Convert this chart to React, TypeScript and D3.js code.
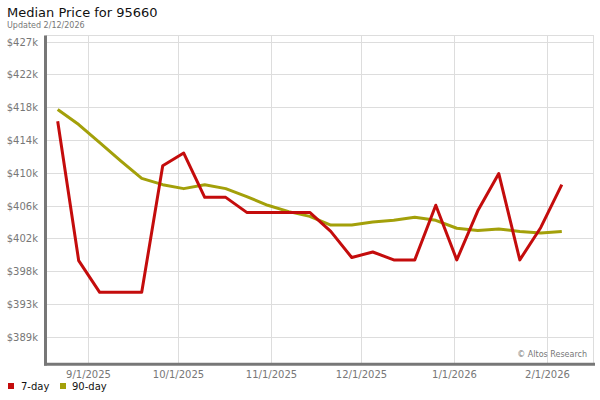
import React from "react";
import * as d3 from "d3";

const dates = [
  "2025-08-22","2025-08-29","2025-09-05","2025-09-12","2025-09-19","2025-09-26",
  "2025-10-03","2025-10-10","2025-10-17","2025-10-24","2025-10-31","2025-11-07",
  "2025-11-14","2025-11-21","2025-11-28","2025-12-05","2025-12-12","2025-12-19",
  "2025-12-26","2026-01-02","2026-01-09","2026-01-16","2026-01-23","2026-01-30","2026-02-06",
];
const sevenDay = [
  416.5, 398.9, 394.9, 394.9, 394.9, 410.9, 412.5, 406.9, 406.9, 405.0, 405.0, 405.0,
  405.0, 402.6, 399.3, 400.0, 399.0, 399.0, 405.9, 399.0, 405.2, 409.9, 399.0, 403.1, 408.5,
];
const ninetyDay = [
  418.0, 416.1, 413.8, 411.5, 409.3, 408.5, 408.0, 408.5, 408.0, 407.0, 405.9, 405.1,
  404.5, 403.4, 403.4, 403.8, 404.0, 404.4, 404.0, 403.0, 402.7, 402.9, 402.6, 402.4, 402.6,
];
const yTickValues = [389.3, 393.44, 397.58, 401.72, 405.86, 410.0, 414.14, 418.28, 422.42, 426.56];
const yTickLabels = ["$389k","$393k","$398k","$402k","$406k","$410k","$414k","$418k","$422k","$427k"];
const xTickDates = ["2025-09-01","2025-10-01","2025-11-01","2025-12-01","2026-01-01","2026-02-01"];
const xTickLabels = ["9/1/2025","10/1/2025","11/1/2025","12/1/2025","1/1/2026","2/1/2026"];

const FONT = "DejaVu Sans, sans-serif";

export default function App() {
  const W = 600, H = 400;
  const left = 46, right = 593.5, top = 35.5, bottom = 364;
  const parse = d3.utcParse("%Y-%m-%d");
  const x = d3.scaleUtc()
    .domain([parse("2025-09-01")!, parse("2026-02-01")!])
    .range([87.7, 546.8]);
  const y = d3.scaleLinear().domain([389.3, 426.56]).range([336.7, 41.7]);
  const line = d3.line<[Date, number]>().x(d => x(d[0])).y(d => y(d[1]));
  const ds = dates.map(d => parse(d)!);
  const red = line(ds.map((d, i) => [d, sevenDay[i]] as [Date, number]))!;
  const green = line(ds.map((d, i) => [d, ninetyDay[i]] as [Date, number]))!;

  return (
    <svg width={W} height={H} style={{ position: "absolute", left: 0, top: 0 }} fontFamily={FONT}>
      <rect width={W} height={H} fill="#fff" />
      <text x={7} y={17} fontSize={13} fill="#111">Median Price for 95660</text>
      <text x={7} y={28} fontSize={8} fill="#777">Updated 2/12/2026</text>
      {/* plot frame */}
      <rect x={left} y={top} width={right - left} height={bottom - top} fill="none" stroke="#ddd" strokeWidth={1} />
      {yTickValues.map((v, i) => (
        <g key={"y" + i}>
          <line x1={left} x2={right} y1={Math.round(y(v)) + 0.5} y2={Math.round(y(v)) + 0.5} stroke="#ddd" />
          <text x={38} y={y(v) + 4} fontSize={10} fill="#777" textAnchor="end">{yTickLabels[i]}</text>
        </g>
      ))}
      {xTickDates.map((d, i) => {
        const xx = Math.round(x(parse(d)!)) + 0.5;
        return (
          <g key={"x" + i}>
            <line x1={xx} x2={xx} y1={top} y2={bottom} stroke="#ddd" />
            <text x={xx} y={378} fontSize={10} fill="#777" textAnchor="middle">{xTickLabels[i]}</text>
          </g>
        );
      })}
      <text x={587} y={357} fontSize={8} fill="#777" textAnchor="end">© Altos Research</text>
      {/* axes */}
      <line x1={45.5} x2={45.5} y1={top} y2={365.5} stroke="#777" strokeWidth={3} />
      <line x1={44} x2={595} y1={364.2} y2={364.2} stroke="#777" strokeWidth={3} />
      <path d={green} fill="none" stroke="#a3a00a" strokeWidth={3} strokeLinejoin="round" />
      <path d={red} fill="none" stroke="#c40c0c" strokeWidth={3} strokeLinejoin="round" />
      {/* legend */}
      <rect x={8} y={383} width={6} height={6} fill="#c40c0c" />
      <text x={21} y={390} fontSize={10} fill="#111">7-day</text>
      <rect x={60} y={383} width={6} height={6} fill="#a3a00a" />
      <text x={72} y={390} fontSize={10} fill="#111">90-day</text>
    </svg>
  );
}
